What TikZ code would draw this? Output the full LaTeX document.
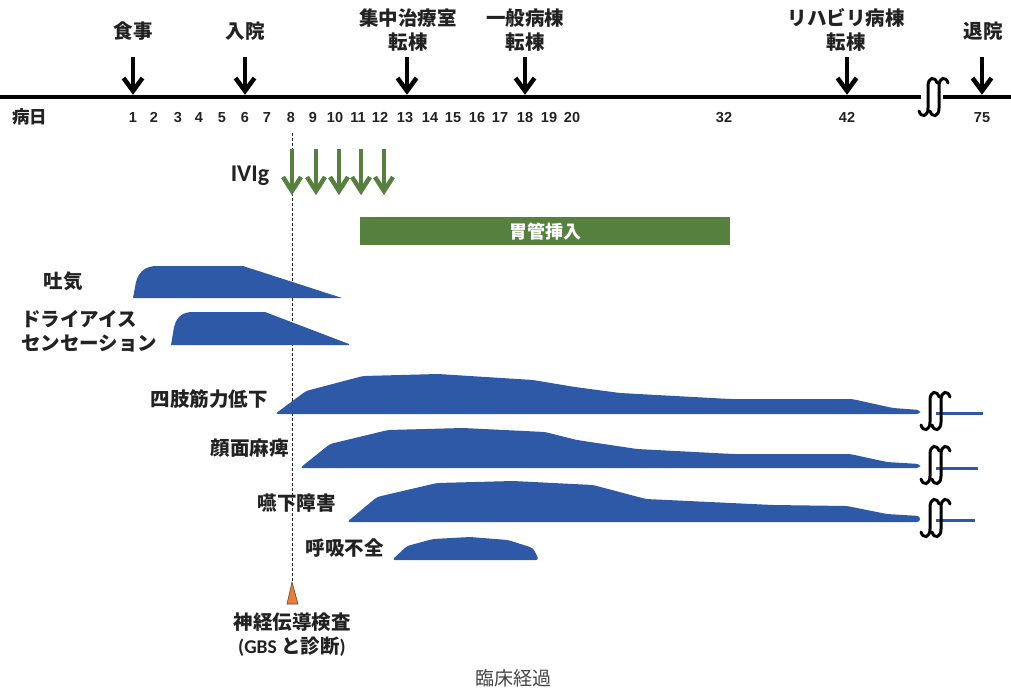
\documentclass[tikz,border=0pt]{standalone}
\usepackage{fontspec}
\newfontfamily\jp{Noto Sans CJK JP}
\newfontfamily\latfont{Liberation Sans}
\newfontfamily\calfont{Carlito}
\usetikzlibrary{arrows.meta}
\definecolor{blueF}{RGB}{46,89,167}
\definecolor{greenF}{RGB}{86,128,62}
\definecolor{orangeF}{RGB}{237,125,49}
\definecolor{txt}{RGB}{34,34,34}
\tikzset{
  lbl/.style={font=\jp\bfseries\fontsize{19.5}{23}\selectfont, text=txt, inner sep=0pt},
  num/.style={font=\latfont\bfseries\fontsize{14.5}{16}\selectfont, text=txt, inner sep=0pt, anchor=base},
  shaft/.style={line width=4pt},
  head/.style={line width=4.5pt, line join=miter, line cap=butt},
  sympt/.style={fill=blueF, draw=none, rounded corners=3pt},
  tail/.style={draw=blueF, line width=3pt},
  brk/.pic={
    \draw[line width=3pt, line cap=round, black]
      (0,-11) .. controls (0,-20) and (7,-21) .. (9,-14)
      (0,-11) -- (0,11) .. controls (0,20) and (-7,21) .. (-9,14)
      (11,-11) .. controls (11,-20) and (18,-21) .. (20,-14)
      (11,-11) -- (11,11) .. controls (11,20) and (4,21) .. (2,14);
  }
}
\begin{document}
\begin{tikzpicture}[x=1pt,y=-1pt]
\useasboundingbox (0,0) rectangle (1011,691);

% axis
\coordinate (ax0) at (0,97);
\coordinate (ax1) at (921,97);
\coordinate (ax2) at (943,97);
\coordinate (ax3) at (1011,97);
\draw[line width=4pt] (ax0) -- (ax1);
\draw[line width=4pt] (ax2) -- (ax3);
\pic at (928,97) {brk};

% axis numbers
\node[lbl, font=\jp\bfseries\fontsize{17.5}{20}\selectfont] (byo) at (30,117) {病日};
\foreach \d/\x in {1/133,2/154,3/178,4/199,5/222,6/245,7/267,8/291,9/313,10/335,11/358,12/380,13/405,14/430,15/453,16/477,17/500,18/525,19/549,20/572,32/724,42/847,75/982}
  \node[num] (t\d) at (\x,122) {\d};

% events
\node[lbl] (Lmeal) at (133,31) {食事};
\node[lbl] (Ladm) at (245,31) {入院};
\node[lbl] (Licu) at (408,18) {集中治療室};
\node[lbl] (Licu2) at (408,42) {転棟};
\node[lbl] (Lgen) at (525,18) {一般病棟};
\node[lbl] (Lgen2) at (525,42) {転棟};
\node[lbl] (Lreh) at (846,18) {リハビリ病棟};
\node[lbl] (Lreh2) at (846,42) {転棟};
\node[lbl] (Ldis) at (983,31) {退院};
\foreach \n/\x in {meal/133,adm/245,icu/407,gen/525,reh/847,dis/982}{
  \coordinate (\n s) at (\x,57);
  \coordinate (\n e) at (\x,91);
  \draw[shaft] (\n s) -- (\n e);
  \draw[head] ([xshift=-9.5pt,yshift=13pt]\n e) -- (\n e) -- ([xshift=9.5pt,yshift=13pt]\n e);
}

% dashed line and triangle
\coordinate (dtop) at (292,133);
\coordinate (tri) at (292,582);
\draw[dashed, dash pattern=on 3pt off 2pt, line width=0.8pt, txt] (dtop) -- (tri);
\draw[fill=orangeF, draw=black!70, line width=0.6pt, line join=miter] (tri) -- (298,604) -- (287,604) -- cycle;

% IVIg
\node[font=\calfont\bfseries\fontsize{24}{26}\selectfont, text=txt, inner sep=0pt, anchor=base] (ivig) at (250,181) {IVIg};
\foreach \i/\x in {1/292,2/316,3/339,4/361,5/384}{
  \coordinate (iv\i s) at (\x,149);
  \coordinate (iv\i e) at (\x,191);
  \draw[shaft, greenF] (iv\i s) -- (iv\i e);
  \draw[head, greenF] ([xshift=-9pt,yshift=14pt]iv\i e) -- (iv\i e) -- ([xshift=9pt,yshift=14pt]iv\i e);
}

% tube bar
\node[fill=greenF, minimum width=370pt, minimum height=28pt, inner sep=0pt, anchor=north west,
      font=\jp\bfseries\fontsize{18}{20}\selectfont, text=white] (tube) at (360,217) {胃管挿入};

% symptom labels
\node[lbl] (nau) at (63,281) {吐気};
\node[lbl, anchor=west] (dry1) at (21,319) {ドライアイス};
\node[lbl, anchor=west] (dry2) at (21,343) {センセーション};
\node[lbl, anchor=east] (limb) at (268,399) {四肢筋力低下};
\node[lbl, anchor=east] (face) at (289,448) {顔面麻痺};
\node[lbl, anchor=east] (swal) at (336,503) {嚥下障害};
\node[lbl, anchor=east] (resp) at (384,548) {呼吸不全};

% symptom shapes
\fill[blueF] (133,298) -- (136,282) .. controls (139,271) and (146,266) .. (157,266) -- (243,266) -- (342,298) -- cycle;
\fill[blueF] (171,345) -- (174,327) .. controls (177,316) and (183,312) .. (193,312) -- (265,312) -- (349,344) -- (349,345) -- cycle;
\fill[sympt] (275,414) -- (306,391) -- (363,376) -- (438,374) -- (533,380) -- (575,387) -- (620,393) -- (730,399) -- (852,399) -- (893,408) -- (920,410) -- (920,414) -- cycle;
\fill[sympt] (300,468) -- (330,444) -- (388,430) -- (463,428) -- (545,432) -- (577,440) -- (637,449) -- (733,454) -- (850,454) -- (887,462) -- (920,464) -- (920,468) -- cycle;
\fill[sympt] (347,522) -- (377,497) -- (437,483) -- (513,481) -- (593,485) -- (646,499) -- (773,505) -- (847,506) -- (887,514) -- (920,516) -- (920,522) -- cycle;
\fill[sympt] (392,560) -- (407,546) -- (433,539) -- (470,537) -- (508,540) -- (533,548) -- (539,560) -- cycle;

% tails and breaks
\coordinate (r1a) at (936,413); \coordinate (r1b) at (983,413);
\coordinate (r2a) at (936,468); \coordinate (r2b) at (978,468);
\coordinate (r3a) at (936,520); \coordinate (r3b) at (975,520);
\draw[tail] (r1a) -- (r1b);
\draw[tail] (r2a) -- (r2b);
\draw[tail] (r3a) -- (r3b);
\pic at (930,411) {brk};
\pic at (930,465) {brk};
\pic at (930,518) {brk};

% bottom labels
\node[lbl] (ncs) at (292,622) {神経伝導検査};
\node[lbl, font=\calfont\bfseries\fontsize{19.5}{23}\selectfont] (gbs) at (292,647) {(GBS {\jp\bfseries と診断})};
\node[font=\jp\fontsize{19}{23}\selectfont, text=txt!85, inner sep=0pt] (title) at (513,678) {臨床経過};
\end{tikzpicture}
\end{document}
